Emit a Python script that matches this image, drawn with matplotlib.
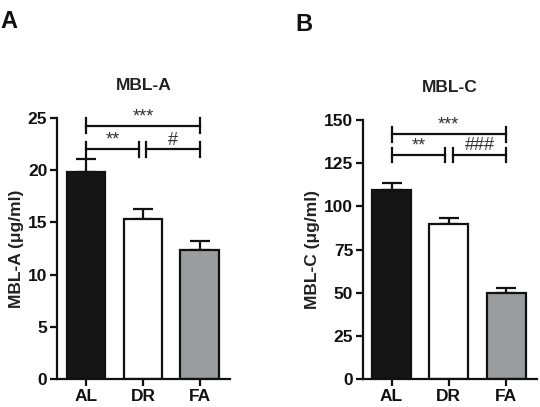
import numpy as np
import matplotlib
matplotlib.use("Agg")
import matplotlib.pyplot as plt

plt.rcParams['font.family'] = ['Liberation Sans', 'DejaVu Sans']

groups = ['AL', 'DR', 'FA']
bar_colors = ['#151515', '#ffffff', '#9a9c9e']

mbla_mean = [19.8, 15.3, 12.35]
mbla_err = [1.3, 1.0, 0.9]
mblc_mean = [109.5, 89.5, 49.8]
mblc_err = [4.3, 4.0, 3.0]


def panel(ax, means, errs, ymax, step, title, ylabel, letter, sig, tick_h,
          letter_x):
    x = np.arange(len(groups))
    ax.bar(x, means, width=0.68, color=bar_colors, edgecolor='#111111',
           linewidth=1.6, zorder=2)
    ax.errorbar(x, means, yerr=[np.zeros(len(errs)), errs], fmt='none',
                ecolor='#111111', elinewidth=1.6, capsize=7, capthick=1.6,
                zorder=1)
    ax.set_xlim(-0.51, 2.53)
    ax.set_ylim(0, ymax)
    ax.set_yticks(np.arange(0, ymax + 1, step))
    ax.set_xticks(x)
    ax.set_xticklabels(groups)
    for s in ['top', 'right']:
        ax.spines[s].set_visible(False)
    for s in ['left', 'bottom']:
        ax.spines[s].set_linewidth(1.6)
        ax.spines[s].set_color('#111111')
    ax.tick_params(width=1.6, length=5, labelsize=12.5, color='#111111',
                   labelcolor='#111111', pad=2)
    for lab in ax.get_xticklabels() + ax.get_yticklabels():
        lab.set_fontweight('bold')
    ax.set_title(title, fontsize=12.5, fontweight='bold', pad=20,
                 color='#222222')
    ax.set_ylabel(ylabel, fontsize=12.5, fontweight='bold', labelpad=3,
                  color='#222222')
    ax.text(letter_x, 1.37, letter, transform=ax.transAxes, fontsize=17,
            fontweight='bold', ha='left', va='center', color='#111111')
    # significance brackets
    for x0, x1, y, label in sig:
        ax.plot([x0, x1], [y, y], color='#111111', lw=1.6, clip_on=False)
        for xx in (x0, x1):
            ax.plot([xx, xx], [y - tick_h, y + tick_h], color='#111111',
                    lw=1.6, clip_on=False)
        ax.annotate(label, ((x0 + x1) / 2, y), xytext=(0, 0.5),
                    textcoords='offset points', ha='center', va='bottom',
                    fontsize=13, color='#333333', annotation_clip=False)


fig = plt.figure(figsize=(5.4, 4.07), dpi=100)
axA = fig.add_axes([57 / 540, 28 / 407, 173 / 540, 261 / 407])
axB = fig.add_axes([363 / 540, 28 / 407, 174 / 540, 259 / 407])

panel(axA, mbla_mean, mbla_err, 25, 5, 'MBL-A', 'MBL-A (\u03bcg/ml)', 'A',
      [(0, 2, 24.26, '***'), (0, 0.93, 22.0, '**'), (1.05, 2, 22.0, '#')],
      0.72, -0.33)
panel(axB, mblc_mean, mblc_err, 150, 25, 'MBL-C', 'MBL-C (\u03bcg/ml)', 'B',
      [(0, 2, 141.8, '***'), (0, 0.935, 129.7, '**'), (1.075, 2, 129.7, '###')],
      4.3, -0.39)
axB.set_xlim(-0.5, 2.54)

fig.savefig('out.png', dpi=100)
